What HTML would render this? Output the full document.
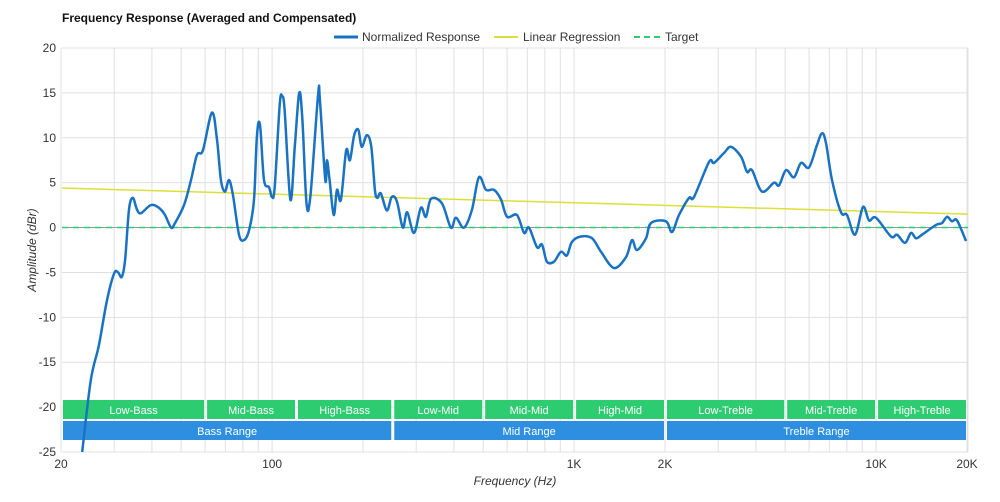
<!DOCTYPE html>
<html><head><meta charset="utf-8"><style>
body{margin:0;background:#fff;font-family:"Liberation Sans",sans-serif;}
svg text{font-family:"Liberation Sans",sans-serif;}
</style></head><body>
<svg id="c" width="1000" height="497" xmlns="http://www.w3.org/2000/svg">
<text x="62" y="22" font-size="12" font-weight="bold" fill="#111">Frequency Response (Averaged and Compensated)</text>
<g>
<g><line x1="334" y1="37" x2="358" y2="37" stroke="#1a73c2" stroke-width="3"/><text x="362" y="41" font-size="12" fill="#333">Normalized Response</text></g>
<g><line x1="494" y1="37" x2="518" y2="37" stroke="#dede3a" stroke-width="2"/><text x="523" y="41" font-size="12" fill="#333">Linear Regression</text></g>
<g><line x1="634" y1="37" x2="660" y2="37" stroke="#2ecc71" stroke-width="2" stroke-dasharray="6,4"/><text x="665" y="41" font-size="12" fill="#333">Target</text></g>
</g>
<g id="grid"></g>
<g id="bands"></g>
<g id="series"></g>
<text x="0" y="0" font-size="12" font-style="italic" fill="#333" transform="translate(36,250) rotate(-90)" text-anchor="middle">Amplitude (dBr)</text>
<text x="515" y="485" font-size="12" font-style="italic" fill="#333" text-anchor="middle">Frequency (Hz)</text>
</svg>
<script>
const freqs=[23.5,25.1,26.7,28.4,30.0,30.9,31.8,32.6,33.6,34.6,35.7,36.8,39.7,42.2,44.2,46.3,47.7,51.1,53.9,56.4,59.0,63.2,65.7,67.7,69.8,72.0,74.2,77.7,80.7,83.9,87.1,89.1,91.2,94.0,97.7,99.9,102,106,108,110,115,119,123,126,130,134,142,144,150,152,155,160,164,169,176,181,187,193,198,206,213,219,223,229,240,249,259,271,280,295,311,323,336,365,391,406,432,459,484,511,543,573,600,647,683,709,754,783,813,858,905,947,984,1054,1147,1228,1355,1485,1555,1615,1730,1797,2015,2110,2226,2402,2494,2798,2906,3136,3308,3570,3737,3882,4190,4592,4770,5032,5348,5640,5998,6372,6622,6828,7146,7654,8012,8516,9050,9474,9992,11204,11730,12466,13050,13556,14192,15792,16530,17174,17840,18534,19848];
const dbs=[-25,-17,-13.1,-8.1,-5.1,-5,-5.5,-3.6,2,3.3,2,1.6,2.5,2.2,1.4,0,0.5,2.5,5.3,8.1,8.6,12.8,9.8,5.3,4,5.3,3.6,-0.8,-1.4,-0.3,3.1,10.3,11.4,5.3,4.5,3.4,4.5,13.7,14.6,13.1,3.1,9.2,15,12,2.7,3.6,14.8,14.2,5.3,7.5,5.3,1.4,4.2,3.1,8.6,7.5,10.3,10.9,9,10.3,9,4.2,3.3,3.8,1.9,3.4,2.9,0,1.7,-0.6,2.2,1.2,3.2,2.7,0,1.1,0,2,5.6,4.2,4.2,3.1,1.2,1.4,-0.6,0,-2.2,-1.9,-3.8,-3.8,-2.7,-3.1,-1.6,-1,-1.2,-2.7,-4.5,-3.3,-1.4,-2.5,-1.2,0.5,0.7,-0.5,1.4,3.3,3.4,7.3,7.2,8.3,9,7.9,6.2,6.4,4,5,4.7,6.4,5.6,7.2,6.7,9.2,10.5,9.4,5.3,1.7,1.4,-0.8,2.3,0.8,1.1,-1,-0.8,-1.7,-0.6,-1.2,-0.8,0.3,0.5,1.2,0.7,0.8,-1.5];
const regression=[4.4,1.5];
const target=0;
const yTicks=[20,15,10,5,0,-5,-10,-15,-20,-25];
const xTickVals=[20,100,1000,2000,10000,20000];
const xTickLabels=["20","100","1K","2K","10K","20K"];
const bandNames=["Low-Bass","Mid-Bass","High-Bass","Low-Mid","Mid-Mid","High-Mid","Low-Treble","Mid-Treble","High-Treble"];
const bandEdges=[20,60,120,250,500,1000,2000,5000,10000,20000];
const rangeNames=["Bass Range","Mid Range","Treble Range"];
const rangeEdges=[20,250,2000,20000];

const L=62,R=968,T=48,B=452;
const x=f=>L+(Math.log10(f/20)/3)*(R-L)-1;
const y=v=>T+(20-v)/45*(B-T);
const NS="http://www.w3.org/2000/svg";
function mk(tag,attrs,parent){const e=document.createElementNS(NS,tag);for(const k in attrs)e.setAttribute(k,attrs[k]);parent.appendChild(e);return e;}
const grid=document.getElementById('grid'),bands=document.getElementById('bands'),series=document.getElementById('series');

[10,100,1000,10000].forEach(dec=>{for(let m=1;m<=9;m++){const f=dec*m;if(f<20||f>20000)continue;
const l=mk('line',{x1:x(f),x2:x(f),y1:T,y2:B,stroke:'#e0e0e0','stroke-width':1},grid);

}});
mk('line',{x1:R,x2:R,y1:T,y2:B,stroke:'#e0e0e0'},grid);
yTicks.forEach(v=>{const l=mk('line',{x1:L,x2:R,y1:y(v),y2:y(v),stroke:'#e0e0e0','stroke-width':1},grid);


const t=mk('text',{x:L-6,y:y(v)+4,'font-size':12,fill:'#333','text-anchor':'end'},grid);t.textContent=v;

});
xTickVals.forEach((f,i)=>{const t=mk('text',{x:x(f),y:468,'font-size':12,fill:'#333','text-anchor':'middle'},grid);t.textContent=xTickLabels[i];

});
bandNames.forEach((n,i)=>{const x0=x(bandEdges[i])+2,x1=x(bandEdges[i+1])-1;
const r=mk('rect',{x:x0,y:400,width:x1-x0,height:19,fill:'#2ecc71'},bands);


const t=mk('text',{x:(x0+x1)/2,y:414,'font-size':11,fill:'#fff','text-anchor':'middle'},bands);t.textContent=n;

});
rangeNames.forEach((n,i)=>{const x0=x(rangeEdges[i])+2,x1=x(rangeEdges[i+1])-1;
const r=mk('rect',{x:x0,y:421,width:x1-x0,height:19,fill:'#2e8fe0'},bands);


const t=mk('text',{x:(x0+x1)/2,y:435,'font-size':11,fill:'#fff','text-anchor':'middle'},bands);t.textContent=n;

});
const z=mk('line',{x1:L,x2:R,y1:y(target),y2:y(target),stroke:'#999','stroke-width':1},series);


const tg=mk('line',{x1:L,x2:R,y1:y(target),y2:y(target),stroke:'#2ecc71','stroke-width':1.5,'stroke-dasharray':'6,5'},series);


const rg=mk('line',{x1:L,x2:R,y1:y(regression[0]),y2:y(regression[1]),stroke:'#dede3a','stroke-width':1.5},series);


const P=freqs.map((f,i)=>[x(f),y(dbs[i])]);
let d='M'+P[0][0].toFixed(1)+','+P[0][1].toFixed(1);
for(let i=0;i<P.length-1;i++){const p0=P[Math.max(0,i-1)],p1=P[i],p2=P[i+1],p3=P[Math.min(P.length-1,i+2)];
const c1=[p1[0]+(p2[0]-p0[0])/6,p1[1]+(p2[1]-p0[1])/6],c2=[p2[0]-(p3[0]-p1[0])/6,p2[1]-(p3[1]-p1[1])/6];
d+=' C'+c1.map(v=>v.toFixed(1))+' '+c2.map(v=>v.toFixed(1))+' '+p2.map(v=>v.toFixed(1));}
const cp=mk('clipPath',{id:'clip'},series);mk('rect',{x:L,y:T,width:R-L,height:B-T},cp);
const pl=mk('path',{d:d,fill:'none',stroke:'#1a73c2','stroke-width':2.5,'stroke-linejoin':'round','clip-path':'url(#clip)'},series);


</script>
</body></html>
